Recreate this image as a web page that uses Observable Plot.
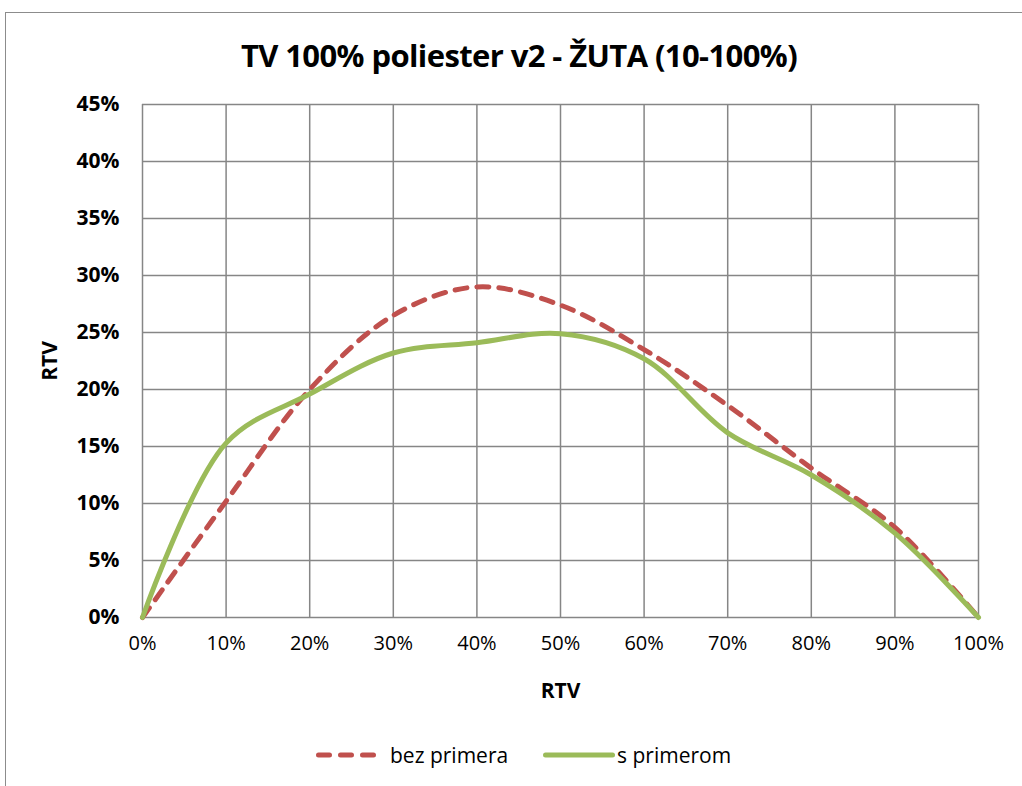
<!DOCTYPE html>
<html>
<head>
<meta charset="utf-8">
<script src="https://cdn.jsdelivr.net/npm/d3@7"></script>
<script src="https://cdn.jsdelivr.net/npm/@observablehq/plot@0.6"></script>
<style>
  html, body { margin: 0; padding: 0; background: #fff; }
  body { width: 1022px; height: 786px; position: relative; overflow: hidden; font-family: "Open Sans", sans-serif; }
  #frame { position: absolute; left: 5px; top: 12px; width: 1030px; height: 800px; border: 1.5px solid #8c8c8c; box-sizing: border-box; }
  #title { position: absolute; left: 0; width: 1038px; top: 34px; line-height: 42px; text-align: center; font-weight: bold; font-size: 31px; color: #000; letter-spacing: -0.6px; }
  #chart { position: absolute; left: 0; top: 80px; }
  #legend { position: absolute; top: 740px; left: 0; width: 1022px; height: 30px; font-size: 21px; color: #000; }
  .item { position: absolute; top: 0; display: flex; align-items: center; height: 30px; }
</style>
</head>
<body>
<div id="frame"></div>
<div id="title">TV 100% poliester v2 - ŽUTA (10-100%)</div>
<div id="chart"></div>
<div id="legend"></div>
<script>
const xValues = [0, 0.1, 0.2, 0.3, 0.4, 0.5, 0.6, 0.7, 0.8, 0.9, 1.0];
const bezPrimera = [0, 0.102, 0.200, 0.265, 0.290, 0.274, 0.235, 0.186, 0.131, 0.079, 0];
const sPrimerom = [0, 0.153, 0.196, 0.232, 0.241, 0.249, 0.227, 0.162, 0.125, 0.074, 0];
const seriesNames = ["bez primera", "s primerom"];
const seriesColors = ["#C0504D", "#9BBB59"];
const xTicks = [0, 0.1, 0.2, 0.3, 0.4, 0.5, 0.6, 0.7, 0.8, 0.9, 1.0];
const yTicks = [0, 0.05, 0.10, 0.15, 0.20, 0.25, 0.30, 0.35, 0.40, 0.45];
const axisTitle = "RTV";

const pct = d => Math.round(d * 100) + "%";
const red = xValues.map((x, i) => ({x, y: bezPrimera[i]}));
const green = xValues.map((x, i) => ({x, y: sPrimerom[i]}));

const plot = Plot.plot({
  width: 1022,
  height: 630,
  marginTop: 24,
  marginBottom: 93,
  marginLeft: 142,
  marginRight: 44,
  style: { fontFamily: "Open Sans, sans-serif", background: "transparent", overflow: "visible" },
  x: { domain: [0, 1], ticks: xTicks, tickFormat: pct, label: null },
  y: { domain: [0, 0.45], ticks: yTicks, tickFormat: pct, label: null },
  marks: [
    Plot.gridX(xTicks, { stroke: "#868686", strokeOpacity: 1, strokeWidth: 1.5 }),
    Plot.gridY(yTicks, { stroke: "#868686", strokeOpacity: 1, strokeWidth: 1.5 }),
    Plot.axisX({ ticks: xTicks, tickFormat: pct, tickSize: 0, tickPadding: 18, fontSize: 20, fill: "#000", label: null }),
    Plot.axisY({ ticks: yTicks, tickFormat: pct, tickSize: 0, tickPadding: 23, fontSize: 21, fontWeight: "bold", fill: "#000", label: null }),
    Plot.axisX({ ticks: [], label: axisTitle, labelAnchor: "center", labelArrow: "none", labelOffset: 80, fontSize: 21, fontWeight: "bold", fill: "#000" }),
    Plot.axisY({ ticks: [], label: axisTitle, labelAnchor: "center", labelArrow: "none", labelOffset: 100, fontSize: 21, fontWeight: "bold", fill: "#000" }),
    Plot.line(red, { x: "x", y: "y", curve: "catmull-rom", stroke: seriesColors[0], strokeWidth: 5, strokeDasharray: "12,10", strokeLinecap: "round" }),
    Plot.line(green, { x: "x", y: "y", curve: "catmull-rom", stroke: seriesColors[1], strokeWidth: 5, strokeLinecap: "round" })
  ]
});
document.getElementById("chart").appendChild(plot);

// Legend
const legend = document.getElementById("legend");
const positions = [{sw: 316, tx: 390, len: 55}, {sw: 543, tx: 617, len: 67}];
seriesNames.forEach((name, i) => {
  const item = document.createElement("div");
  item.className = "item";
  item.style.left = positions[i].sw + "px";
  const svgNS = "http://www.w3.org/2000/svg";
  const s = document.createElementNS(svgNS, "svg");
  s.setAttribute("width", 74); s.setAttribute("height", 30);
  const l = document.createElementNS(svgNS, "line");
  l.setAttribute("x1", 2.5); l.setAttribute("x2", 2.5 + positions[i].len);
  l.setAttribute("y1", 15); l.setAttribute("y2", 15);
  l.setAttribute("stroke", seriesColors[i]);
  l.setAttribute("stroke-width", 5);
  l.setAttribute("stroke-linecap", "round");
  if (i === 0) l.setAttribute("stroke-dasharray", "11,11");
  s.appendChild(l);
  item.appendChild(s);
  const t = document.createElement("span");
  t.textContent = name;
  t.style.position = "absolute";
  t.style.left = (positions[i].tx - positions[i].sw) + "px";
  t.style.whiteSpace = "nowrap";
  item.appendChild(t);
  legend.appendChild(item);
});
</script>
</body>
</html>
